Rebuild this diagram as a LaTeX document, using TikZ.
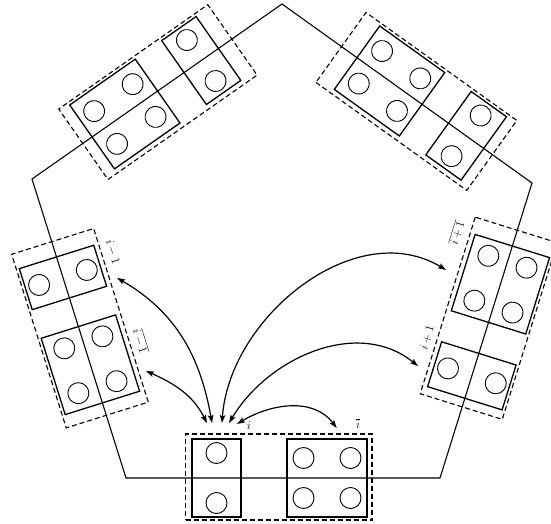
\documentclass[tikz,border=0pt]{standalone}
\usetikzlibrary{%
	calc,%
	arrows.meta,%
}
\tikzset{
	>={Stealth[length=8pt,width=5.5pt,inset=1.5pt]},%
	ring/.style={line width=1.1pt},%
	blk/.style={%
			draw,%
			rectangle,%
			line width=1.3pt,%
			minimum height=78pt,%
			inner sep=0pt,%
			transform shape},%
	dashbox/.style={%
			draw,%
			rectangle,%
			dash pattern=on 5pt off 3pt,%
			line width=1.1pt,%
			minimum height=86pt,%
			inner sep=0pt,%
			transform shape},%
	hole/.style={line width=0.9pt},%
	lbl/.style={%
			font=\large,%
			inner sep=0pt,%
			transform shape},%
	link/.style={<->, line width=1.2pt},%
}
% #1 name, #2/#3 dashed box centre/width, #4/#5 two-block centre/width, #6 four-block centre
\newcommand{\blockgroup}[6]{%
	\node[dashbox, minimum width=#3pt] (#1box) at (#2,1) {};
	\node[blk, minimum width=#5pt] (#1two) at (#4,0) {};
	\node[blk, minimum width=80pt] (#1four) at (#6,0) {};
	\foreach \dy in {-25,25}
		\draw[hole] (#4,\dy) circle[radius=10.5pt];
	\foreach \dx in {-23.5,23.5}
		\foreach \dy in {-20,20}
			\draw[hole] (#6+\dx,\dy) circle[radius=10.5pt];
}

\begin{document}
\begin{tikzpicture}[x=1pt, y=1pt]
	\useasboundingbox (0,0) rectangle (551,523);

	\coordinate (pul) at (32,344);
	\coordinate (pll) at (126,45);
	\coordinate (plr) at (440,45);
	\coordinate (pr) at (532,340);
	\coordinate (pt) at (282,519);
	\draw[ring] (pul) -- (pll) -- (plr) -- (pr) -- (pt) -- cycle;

	% left side
	\begin{scope}[shift={($(pul)!.5!(pll)$)}, rotate=-72.55]
		\blockgroup{gl}{0}{182}{-53.5}{43}{38}
		\node[lbl] (gllabtwo) at (-63,55) {$i-1$};
		\node[lbl] (gllabfour) at (30.6,55) {$\overline{i-1}$};
		\coordinate (gltwoport) at (-36.8,51.5);
		\coordinate (glfourport) at (60.6,51.2);
	\end{scope}

	% bottom side
	\begin{scope}[shift={($(pll)!.5!(plr)$)}]
		\blockgroup{gb}{-4.25}{186.5}{-66.5}{49}{44}
		\node[lbl] (gblabtwo) at (-34,52) {$i$};
		\node[lbl] (gblabfour) at (75,54) {$\overline{i}$};
		\coordinate (gbport1) at (-76,55);
		\coordinate (gbport2) at (-71,55);
		\coordinate (gbport3) at (-61,55);
		\coordinate (gbport4) at (-54,55);
		\coordinate (gbport5) at (-46,54);
		\coordinate (gbfourport) at (53.7,50);
	\end{scope}

	% right side
	\begin{scope}[shift={($(plr)!.5!(pr)$)}, rotate=72.68]
		\blockgroup{gr}{12.5}{185}{-47.5}{47}{48.5}
		\node[lbl] (grlabtwo) at (-24.5,54) {$i+1$};
		\node[lbl] (grlabfour) at (84.6,57) {$\overline{i+1}$};
		\coordinate (grtwoport) at (-54.2,54.3);
		\coordinate (grfourport) at (45.9,56.2);
	\end{scope}

	% upper right side
	\begin{scope}[shift={($(pr)!.5!(pt)$)}, rotate=144.4]
		\blockgroup{gur}{-12.25}{185.5}{-72.7}{43.4}{21.5}
	\end{scope}

	% upper left side
	\begin{scope}[shift={($(pt)!.5!(pul)$)}, rotate=215]
		\blockgroup{gul}{-0.4}{182}{-54}{42}{39.25}
	\end{scope}

	\draw[link] (gbport1) to[out=117, in=-24] (glfourport);
	\draw[link] (gbport2) to[out=100, in=-30] (gltwoport);
	\draw[link] (gbport3) to[out=86, in=149] (grfourport);
	\draw[link] (gbport4) to[out=59, in=141] (grtwoport);
	\draw[link] (gbport5) to[out=31, in=127] (gbfourport);
\end{tikzpicture}
\end{document}
